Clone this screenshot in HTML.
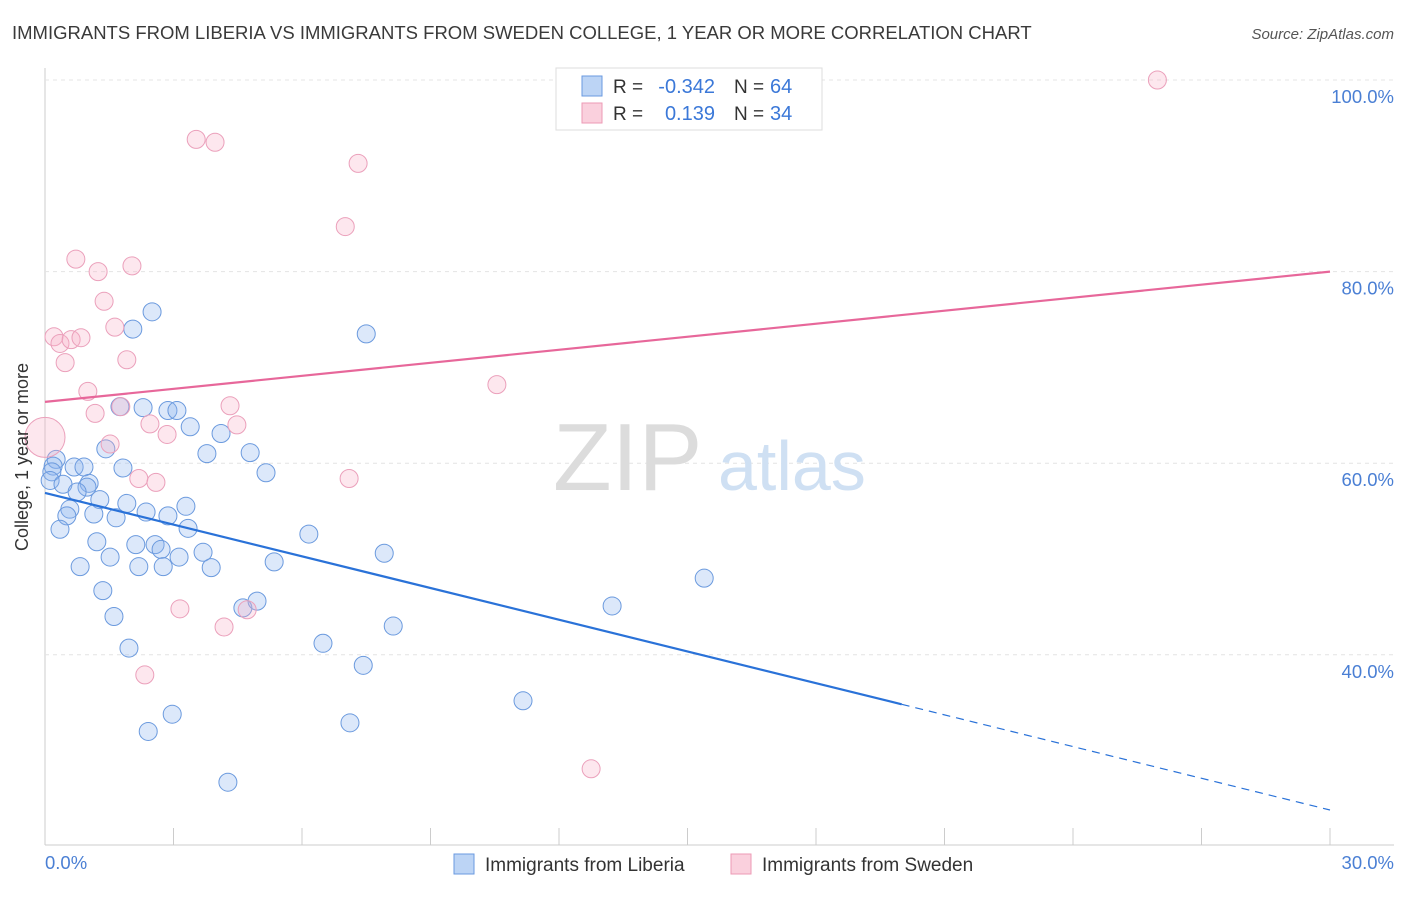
<!DOCTYPE html>
<html><head><meta charset="utf-8"><style>
body{margin:0;background:#fff;font-family:"Liberation Sans",sans-serif}
svg text{font-family:"Liberation Sans",sans-serif}
</style></head><body>
<svg id="c" width="1406" height="892" xmlns="http://www.w3.org/2000/svg">
<text x="12" y="39" font-size="18.5" fill="#3a3a3a">IMMIGRANTS FROM LIBERIA VS IMMIGRANTS FROM SWEDEN COLLEGE, 1 YEAR OR MORE CORRELATION CHART</text>
<text x="1394" y="39" font-size="15" fill="#555" text-anchor="end" font-style="italic">Source: ZipAtlas.com</text>
<g id="grid"></g>
<text x="553" y="490" font-size="96" fill="#dcdcdc" font-family="Liberation Serif">ZIP</text>
<text x="718" y="490" font-size="70" fill="#cfe0f3">atlas</text>
<g id="pts"></g>
<g id="lines"></g>
<text x="28" y="457" font-size="18" fill="#333" text-anchor="middle" transform="rotate(-90 28 457)">College, 1 year or more</text>
<text x="45" y="869" font-size="18.5" fill="#4a7fd4">0.0%</text>
<text x="1394" y="869" font-size="18.5" fill="#4a7fd4" text-anchor="end">30.0%</text>
<g>
<rect x="556" y="68" width="266" height="62" fill="#fff" stroke="#ddd"/>
<rect x="582" y="76" width="20" height="20" fill="#bcd4f5" stroke="#6a9ae0"/>
<rect x="582" y="103" width="20" height="20" fill="#fad0dd" stroke="#ec9ab5"/>
<text x="613" y="93" font-size="19" fill="#333">R =</text>
<text x="715" y="93" font-size="20" fill="#3b78d8" text-anchor="end">-0.342</text>
<text x="734" y="93" font-size="19" fill="#333">N =</text>
<text x="770" y="93" font-size="20" fill="#3b78d8">64</text>
<text x="613" y="120" font-size="19" fill="#333">R =</text>
<text x="715" y="120" font-size="20" fill="#3b78d8" text-anchor="end">0.139</text>
<text x="734" y="120" font-size="19" fill="#333">N =</text>
<text x="770" y="120" font-size="20" fill="#3b78d8">34</text>
</g>
<g>
<rect x="454" y="854" width="20" height="20" fill="#bcd4f5" stroke="#6a9ae0"/>
<text x="485" y="871" font-size="19" fill="#333">Immigrants from Liberia</text></g>
<g>
<rect x="731" y="854" width="20" height="20" fill="#fad0dd" stroke="#ec9ab5"/>
<text x="762" y="871" font-size="19" fill="#333">Immigrants from Sweden</text></g>
</svg>
<script>
const yTicks=[40,60,80,100];
const xTickCount=10;
const blueX=[2.50,2.05,7.50,1.75,2.29,2.87,3.08,3.39,4.11,3.78,4.79,1.42,1.82,5.16,0.26,0.19,0.16,0.68,0.91,0.12,0.42,1.03,0.98,0.75,1.28,1.91,3.29,0.58,1.14,0.51,1.66,2.36,2.87,0.35,3.34,6.16,1.21,2.57,2.71,2.12,1.52,3.69,3.13,7.92,0.82,2.19,2.76,3.88,5.35,15.39,1.35,13.24,4.62,4.95,1.61,8.13,6.49,1.96,7.43,11.16,2.97,7.12,2.41,4.27];
const blueY=[75.8,74.0,73.5,65.9,65.8,65.5,65.5,63.8,63.1,61.0,61.1,61.5,59.5,59.0,60.4,59.7,59.1,59.6,59.6,58.2,57.8,57.9,57.5,57.0,56.2,55.8,55.5,55.2,54.7,54.5,54.3,54.9,54.5,53.1,53.2,52.6,51.8,51.5,51.0,51.5,50.2,50.7,50.2,50.6,49.2,49.2,49.2,49.1,49.7,48.0,46.7,45.1,44.9,45.6,44.0,43.0,41.2,40.7,38.9,35.2,33.8,32.9,32.0,26.7];
const pinkX=[25.97,3.53,3.97,7.31,7.01,0.72,1.24,2.03,1.38,1.63,0.21,0.35,0.61,0.84,0.47,1.91,1.00,10.55,1.77,1.17,4.32,2.45,2.85,4.48,0,1.52,7.10,2.19,2.59,3.15,4.72,4.18,2.33,12.75];
const pinkY=[100.0,93.8,93.5,91.3,84.7,81.3,80.0,80.6,76.9,74.2,73.2,72.5,72.9,73.1,70.5,70.8,67.5,68.2,65.9,65.2,66.0,64.1,63.0,64.0,62.7,62.0,58.4,58.4,58.0,44.8,44.7,42.9,37.9,28.1];
const blueTrend=[56.9,23.8];
const pinkTrend=[66.4,80.0];
const NS='http://www.w3.org/2000/svg';
const X=v=>45+v/30*1285;
const Y=v=>80+(100-v)*9.58;
function mk(t,a,p){const e=document.createElementNS(NS,t);for(const k in a)e.setAttribute(k,a[k]);p.appendChild(e);return e;}
const grid=document.getElementById('grid');
mk('line',{x1:45,y1:68,x2:45,y2:845,stroke:'#ccc'},grid);
mk('line',{x1:45,y1:845,x2:1394,y2:845,stroke:'#ccc'},grid);
yTicks.forEach(t=>{
 const l=mk('line',{x1:45,y1:Y(t),x2:1394,y2:Y(t),stroke:'#e4e4e4','stroke-dasharray':'4,4'},grid);
 
 
 const tx=mk('text',{x:1394,y:Y(t)+23,'font-size':18.5,fill:'#4a7fd4','text-anchor':'end'},grid);
 tx.textContent=t.toFixed(1)+'%';
 
 
});
for(let i=1;i<=xTickCount;i++){
 const l=mk('line',{x1:X(i*3),y1:828,x2:X(i*3),y2:845,stroke:'#ccc'},grid);
 
 
}
const pts=document.getElementById('pts');
blueX.forEach((x,i)=>{
 const c=mk('circle',{cx:X(x),cy:Y(blueY[i]),r:9,fill:'rgba(140,180,240,0.3)',stroke:'#6b9ade','stroke-width':1},pts);
 
 
});
pinkX.forEach((x,i)=>{
 const c=mk('circle',{cx:X(x),cy:Y(pinkY[i]),r:i==24?20:9,fill:'rgba(248,175,200,0.3)',stroke:'#eba0bb','stroke-width':1},pts);
 
 
});
const lines=document.getElementById('lines');
const by=x=>blueTrend[0]+(blueTrend[1]-blueTrend[0])*x/30;
const py=x=>pinkTrend[0]+(pinkTrend[1]-pinkTrend[0])*x/30;
let l=mk('line',{x1:X(0),y1:Y(by(0)),x2:X(20),y2:Y(by(20)),stroke:'#2a72d8','stroke-width':2.2},lines);


l=mk('line',{x1:X(20),y1:Y(by(20)),x2:X(30),y2:Y(by(30)),stroke:'#2a72d8','stroke-width':1.2,'stroke-dasharray':'8,6'},lines);


l=mk('line',{x1:X(0),y1:Y(py(0)),x2:X(30),y2:Y(py(30)),stroke:'#e7679a','stroke-width':2.2},lines);


</script>
</body></html>
